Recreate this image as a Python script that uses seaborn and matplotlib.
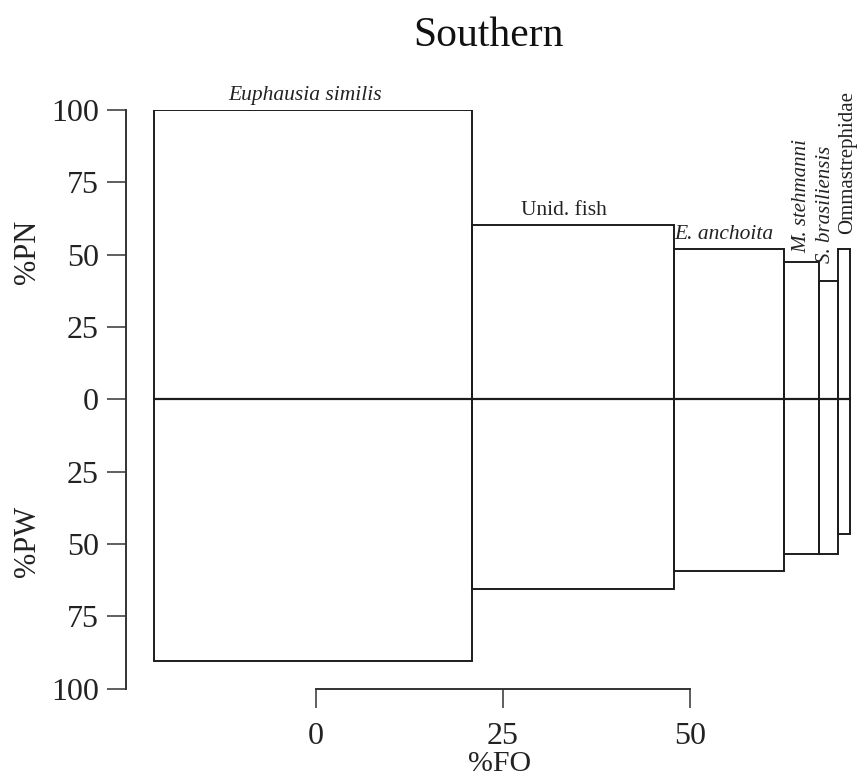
import matplotlib
matplotlib.use("Agg")
import matplotlib.pyplot as plt
import seaborn as sns
import numpy as np

# ---- data ----
species = ["Euphausia similis", "Unid. fish", "E. anchoita", "M. stehmanni",
           "S. brasiliensis", "Ommastrephidae"]
fo = [42.4, 27.0, 14.7, 4.8, 2.5, 1.6]          # %FO (box widths)
pn = [100.0, 60.1, 52.0, 47.6, 40.7, 52.0]      # %PN (upwards)
pw = [90.4, 65.6, 59.3, 53.5, 53.5, 46.4]       # %PW (downwards)
fo_start = -21.6                                 # where the first box starts on the %FO scale
italic = [True, False, True, True, True, False]
vertical = [False, False, False, True, True, True]
y_ticks = [100, 75, 50, 25, 0, -25, -50, -75, -100]
y_ticklabels = ["100", "75", "50", "25", "0", "25", "50", "75", "100"]
x_ticks = [0, 25, 50]
title = "Southern"

# label placement tweaks (style only)
label_dx = [-1.0, -1.2, -0.6, 0.1, -0.45, 0.45]
label_dy = [1.8, 1.7, 1.7, 3.0, 6.4, 5.2]

# ---- style ----
sns.set_theme(style="ticks")
plt.rcParams["font.family"] = ["Liberation Serif", "DejaVu Serif"]

W, H = 861, 780
fig = plt.figure(figsize=(W / 100, H / 100), dpi=100)
left_px, right_px = 126.5, 858.0
top_px, bot_px = 109.85, 688.75
ax = fig.add_axes([left_px / W, (H - bot_px) / H,
                   (right_px - left_px) / W, (bot_px - top_px) / H])

# mapping: px = 316 + 7.48*x
x0 = (left_px - 316) / 7.48
x1 = (right_px - 316) / 7.48
ax.set_xlim(x0, x1)
ax.set_ylim(-100, 100)

lefts = fo_start + np.concatenate([[0], np.cumsum(fo)[:-1]])
edge = "#1c1c1c"
lw = 1.4
ax.bar(lefts, pn, width=fo, align="edge", bottom=0, fill=False,
       edgecolor=edge, linewidth=lw, zorder=3)
ax.bar(lefts, -np.array(pw), width=fo, align="edge", bottom=0, fill=False,
       edgecolor=edge, linewidth=lw, zorder=3)
ax.plot([lefts[0], lefts[-1] + fo[-1]], [0, 0], color=edge, lw=1.6, zorder=4)

# box labels
for name, l, w, h, it, vert, dx, dy in zip(species, lefts, fo, pn, italic,
                                           vertical, label_dx, label_dy):
    style = "italic" if it else "normal"
    if vert:
        ax.text(l + w / 2 + dx, h + dy, name, rotation=90, ha="center", va="bottom",
                fontsize=15, fontstyle=style, clip_on=False, color="#222")
    else:
        ax.text(l + w / 2 + dx, h + dy, name, ha="center", va="bottom",
                fontsize=15.5, fontstyle=style, clip_on=False, color="#222")

# axes styling
for s in ["top", "right"]:
    ax.spines[s].set_visible(False)
ax.spines["left"].set_bounds(-100, 100)
ax.spines["bottom"].set_bounds(0, 50)
for s in ["left", "bottom"]:
    ax.spines[s].set_color("#333333")
    ax.spines[s].set_linewidth(1.4)
ax.set_yticks(y_ticks)
ax.set_yticklabels(y_ticklabels)
ax.set_xticks(x_ticks)
ax.tick_params(axis="both", direction="out", length=14, width=1.1,
               color="#333333", labelsize=23, labelcolor="#222")
ax.tick_params(axis="y", pad=6)
ax.tick_params(axis="x", pad=10)
ax.grid(False)
ax.set_facecolor("white")

fig.text(27 / W, (H - 251.7) / H, "%PN", rotation=90, ha="center", va="center",
         fontsize=22, color="#222")
fig.text(27 / W, (H - 541) / H, "%PW", rotation=90, ha="center", va="center",
         fontsize=22, color="#222")
fig.text(500 / W, (H - 764) / H, "%FO", ha="center", va="center",
         fontsize=21.5, color="#222")
fig.text(488 / W, (H - 36) / H, title, ha="center", va="center",
         fontsize=30, color="#111")

fig.savefig("out.png", dpi=100, facecolor="white")
